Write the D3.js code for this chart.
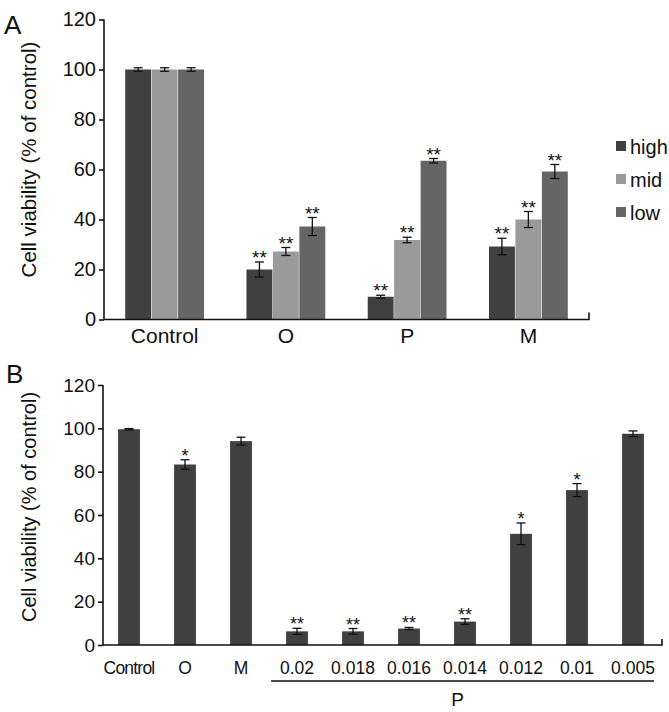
<!DOCTYPE html>
<html>
<head>
<meta charset="utf-8">
<script src="https://cdn.jsdelivr.net/npm/d3@7"></script>
<style>
  body { margin: 0; background: #fff; }
  svg { display: block; font-family: "Liberation Sans", Arial, sans-serif; }
</style>
</head>
<body>
<svg id="chart" width="669" height="712"></svg>
<script>
// ---------- Panel A data ----------
const groupsA = ["Control", "O", "P", "M"];
const seriesA = ["high", "mid", "low"];
const highVals = [100, 20, 9.1, 29.2];
const midVals  = [100, 27.2, 31.8, 40];
const lowVals  = [100, 37.2, 63.5, 59.2];
const highErr  = [0.7, 3, 0.6, 3.3];
const midErr   = [0.7, 1.6, 1.1, 3.2];
const lowErr   = [0.7, 3.6, 0.9, 2.8];
const highSig  = ["", "**", "**", "**"];
const midSig   = ["", "**", "**", "**"];
const lowSig   = ["", "**", "**", "**"];
const seriesColors = ["#404040", "#9a9a9a", "#656565"];
const yTicksA = [0, 20, 40, 60, 80, 100, 120];

// ---------- Panel B data ----------
const catsB = ["Control", "O", "M", "0.02", "0.018", "0.016", "0.014", "0.012", "0.01", "0.005"];
const valsB = [99.6, 83.3, 94.1, 6.3, 6.3, 7.6, 10.8, 51.3, 71.5, 97.5];
const errB  = [0.3, 2.2, 1.8, 1.4, 1.3, 0.5, 1.3, 5, 3, 1.3];
const sigB  = ["", "*", "", "**", "**", "**", "**", "*", "*", ""];
const pGroup = ["0.02", "0.018", "0.016", "0.014", "0.012", "0.01", "0.005"];
const yTicksB = [0, 20, 40, 60, 80, 100, 120];

const svg = d3.select("#chart");
const font = "'Liberation Sans', Arial, sans-serif";

// ================= Panel A =================
{
  const left = 104, right = 589, top = 19.5, bottom = 319.5;
  const y = d3.scaleLinear().domain([0, 120]).range([bottom, top]);
  const x0 = d3.scaleBand().domain(groupsA).range([left, right]).paddingInner(0.35).paddingOuter(0.175);
  const x1 = d3.scaleBand().domain(seriesA).range([0, x0.bandwidth()]).paddingInner(0.02);
  const vals = [highVals, midVals, lowVals];
  const errs = [highErr, midErr, lowErr];
  const sigs = [highSig, midSig, lowSig];
  const g = svg.append("g");

  const data = [];
  groupsA.forEach((grp, i) => seriesA.forEach((s, j) => {
    data.push({grp, s, v: vals[j][i], e: errs[j][i], sig: sigs[j][i], c: seriesColors[j]});
  }));

  g.selectAll("rect.bar").data(data).join("rect")
    .attr("x", d => x0(d.grp) + x1(d.s))
    .attr("y", d => y(d.v))
    .attr("width", x1.bandwidth())
    .attr("height", d => y(0) - y(d.v))
    .attr("fill", d => d.c);

  const eg = g.selectAll("g.err").data(data).join("g")
    .attr("transform", d => `translate(${x0(d.grp) + x1(d.s) + x1.bandwidth() / 2},0)`);
  eg.append("line").attr("y1", d => y(d.v + d.e)).attr("y2", d => y(d.v - d.e))
    .attr("stroke", "#111").attr("stroke-width", 1.3);
  eg.append("line").attr("x1", -4.5).attr("x2", 4.5).attr("y1", d => y(d.v + d.e)).attr("y2", d => y(d.v + d.e))
    .attr("stroke", "#111").attr("stroke-width", 1.3);
  eg.append("line").attr("x1", -4.5).attr("x2", 4.5).attr("y1", d => y(d.v - d.e)).attr("y2", d => y(d.v - d.e))
    .attr("stroke", "#111").attr("stroke-width", 1.3);
  eg.append("text").text(d => d.sig)
    .attr("y", d => y(d.v + d.e) + 2)
    .attr("text-anchor", "middle").attr("font-size", 19).attr("fill", "#111");

  const ya = d3.axisLeft(y).tickValues(yTicksA).tickSize(5).tickPadding(3);
  const yAxis = g.append("g").attr("transform", `translate(${left},0)`).call(ya);
  yAxis.select(".domain").attr("stroke", "#111").attr("stroke-width", 1.6).attr("d", `M0,${top}V${bottom}`);
  yAxis.selectAll(".tick line").attr("stroke", "#111").attr("stroke-width", 1.6);
  yAxis.selectAll(".tick text").attr("font-size", 20).attr("font-family", font).attr("fill", "#111");

  const xa = d3.axisBottom(x0).tickSize(0).tickPadding(9);
  const xAxis = g.append("g").attr("transform", `translate(0,${bottom})`).call(xa);
  xAxis.select(".domain").attr("stroke", "#111").attr("stroke-width", 1.6).attr("d", `M${left},0H${right}V-7`);
  xAxis.selectAll(".tick text").attr("font-size", 21).attr("font-family", font).attr("fill", "#111").attr("dy", "0.71em");

  g.append("text").attr("transform", `translate(36,${(top + bottom) / 2 - 10}) rotate(-90)`)
    .attr("text-anchor", "middle").attr("font-size", 20.5).attr("fill", "#111")
    .text("Cell viability (% of control)");

  g.append("text").attr("x", 4).attr("y", 34).attr("font-size", 26).attr("fill", "#111").text("A");

  const lg = g.selectAll("g.leg").data(seriesA).join("g")
    .attr("transform", (d, i) => `translate(616,${146 + i * 33})`);
  lg.append("rect").attr("x", 0).attr("y", -5).attr("width", 10).attr("height", 10)
    .attr("fill", (d, i) => seriesColors[i]);
  lg.append("text").attr("x", 14).attr("y", 7.5).attr("font-size", 20).attr("fill", "#111").text(d => d);
}

// ================= Panel B =================
{
  const left = 103, right = 662, top = 385, bottom = 645;
  const y = d3.scaleLinear().domain([0, 120]).range([bottom, top]);
  const x = d3.scaleBand().domain(catsB).range([101, 661]).paddingInner(0.61).paddingOuter(0.305);
  const g = svg.append("g");
  const data = catsB.map((c, i) => ({c, v: valsB[i], e: errB[i], sig: sigB[i]}));

  g.selectAll("rect").data(data).join("rect")
    .attr("x", d => x(d.c)).attr("y", d => y(d.v))
    .attr("width", x.bandwidth()).attr("height", d => y(0) - y(d.v))
    .attr("fill", "#404040");

  const eg = g.selectAll("g.err").data(data).join("g")
    .attr("transform", d => `translate(${x(d.c) + x.bandwidth() / 2},0)`);
  eg.append("line").attr("y1", d => y(d.v + d.e)).attr("y2", d => y(d.v - d.e))
    .attr("stroke", "#111").attr("stroke-width", 1.3);
  eg.append("line").attr("x1", -4.5).attr("x2", 4.5).attr("y1", d => y(d.v + d.e)).attr("y2", d => y(d.v + d.e))
    .attr("stroke", "#111").attr("stroke-width", 1.3);
  eg.append("line").attr("x1", -4.5).attr("x2", 4.5).attr("y1", d => y(d.v - d.e)).attr("y2", d => y(d.v - d.e))
    .attr("stroke", "#111").attr("stroke-width", 1.3);
  eg.append("text").text(d => d.sig)
    .attr("y", d => y(d.v + d.e) + 2)
    .attr("text-anchor", "middle").attr("font-size", 18).attr("fill", "#111");

  const ya = d3.axisLeft(y).tickValues(yTicksB).tickSize(5).tickPadding(3);
  const yAxis = g.append("g").attr("transform", `translate(${left},0)`).call(ya);
  yAxis.select(".domain").attr("stroke", "#111").attr("stroke-width", 1.6).attr("d", `M0,${top}V${bottom}`);
  yAxis.selectAll(".tick line").attr("stroke", "#111").attr("stroke-width", 1.6);
  yAxis.selectAll(".tick text").attr("font-size", 19).attr("font-family", font).attr("fill", "#111");

  const xa = d3.axisBottom(x).tickSize(0).tickPadding(17);
  const xAxis = g.append("g").attr("transform", `translate(0,${bottom})`).call(xa);
  xAxis.select(".domain").attr("stroke", "#111").attr("stroke-width", 1.6).attr("d", `M${left},0H${right}V-6`);
  xAxis.selectAll(".tick text").attr("font-size", 17.5).attr("font-family", font).attr("fill", "#111")
    .attr("letter-spacing", d => d === "Control" ? "-0.8" : null);

  const x1p = x(pGroup[0]) - 15, x2p = x(pGroup[pGroup.length - 1]) + x.bandwidth() + 10;
  g.append("line").attr("x1", x1p).attr("x2", x2p).attr("y1", 681).attr("y2", 681)
    .attr("stroke", "#111").attr("stroke-width", 1.6);
  g.append("text").attr("x", (x1p + x2p) / 2 - 5).attr("y", 706).attr("text-anchor", "middle")
    .attr("font-size", 19).attr("fill", "#111").text("P");

  g.append("text").attr("transform", `translate(36,${(top + bottom) / 2 - 8}) rotate(-90)`)
    .attr("text-anchor", "middle").attr("font-size", 20).attr("fill", "#111")
    .text("Cell viability (% of control)");

  g.append("text").attr("x", 6).attr("y", 383).attr("font-size", 26).attr("fill", "#111").text("B");
}
</script>
</body>
</html>
